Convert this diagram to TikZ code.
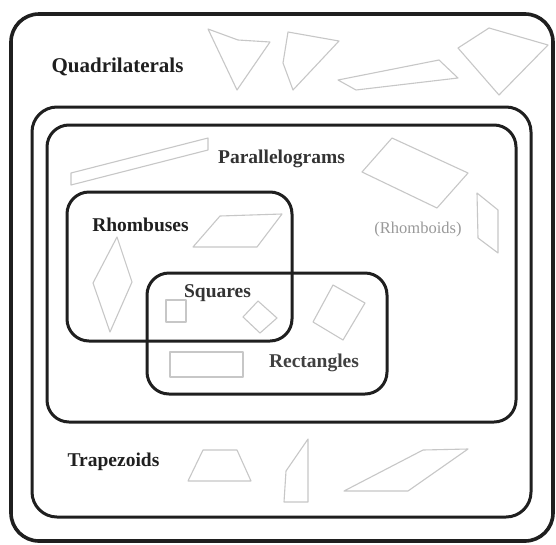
\documentclass[tikz,border=0pt]{standalone}
\usepackage{fontspec}
\setmainfont{Liberation Serif}
\begin{document}
\begin{tikzpicture}[x=1pt,y=-1pt,
  box/.style={draw=black!88,line width=3pt,rounded corners=22pt},
  shp/.style={draw=black!22,line width=1.1pt,line join=round},
  lbl/.style={inner sep=0pt,anchor=base,font=\fontsize{19.5}{20}\selectfont\bfseries,text=black!88}]
\useasboundingbox[fill=white] (0,0) rectangle (556,544);
% boxes
\draw[box,line width=3.6pt,rounded corners=28pt] (11,14) rectangle (553,541);
\draw[box,rounded corners=25pt] (32,107) rectangle (531,517);
\draw[box] (47,125) rectangle (516,422);
\draw[box] (67,192) rectangle (292,341);
\draw[box] (147,273) rectangle (387,394);
% labels
\node[lbl,font=\fontsize{21}{22}\selectfont\bfseries] (quad) at (117.5,72) {Quadrilaterals};
\node[lbl,text=black!80] (para) at (281.5,163) {Parallelograms};
\node[lbl] (rhomb) at (140.5,231) {Rhombuses};
\node[lbl,font=\fontsize{16.5}{17}\selectfont,text=black!40] (rhomboid) at (418,233) {(Rhomboids)};
\node[lbl,text=black!80] (sq) at (217.5,297) {Squares};
\node[lbl,text=black!75] (rect) at (314,367) {Rectangles};
\node[lbl] (trap) at (113.5,466) {Trapezoids};
% quadrilaterals row
\draw[shp] (208,29) -- (238,40) -- (270,42) -- (237,90) -- cycle;
\draw[shp] (288,32) -- (339,41) -- (293,90) -- (283,63) -- cycle;
\draw[shp] (338,80) -- (439,60) -- (458,78) -- (356,90) -- cycle;
\draw[shp] (458,48) -- (489,28) -- (548,45) -- (499,95) -- cycle;
% parallelograms
\draw[shp] (71,173) -- (208,138) -- (208,150) -- (71,185) -- cycle;
\draw[shp] (362,172) -- (392,138) -- (468,173) -- (437,208) -- cycle;
\draw[shp] (477,193) -- (498,210) -- (498,253) -- (478,238) -- cycle;
% rhombuses
\draw[shp] (193,247) -- (220,216) -- (282,214) -- (257,247) -- cycle;
\draw[shp] (117,237) -- (132,282) -- (110,332) -- (93,283) -- cycle;
% squares
\draw[shp] (166,300) rectangle (186,322);
\draw[shp] (243,317) -- (258,301) -- (277,318) -- (260,333) -- cycle;
% rectangles
\draw[shp] (313,322) -- (333,285) -- (365,303) -- (343,340) -- cycle;
\draw[shp] (170,352) rectangle (243,377);
% trapezoids
\draw[shp] (188,481) -- (203,450) -- (237,450) -- (251,481) -- cycle;
\draw[shp] (284,502) -- (286,471) -- (308,439) -- (308,502) -- cycle;
\draw[shp] (344,491) -- (423,450) -- (468,449) -- (408,491) -- cycle;
\end{tikzpicture}
\end{document}
